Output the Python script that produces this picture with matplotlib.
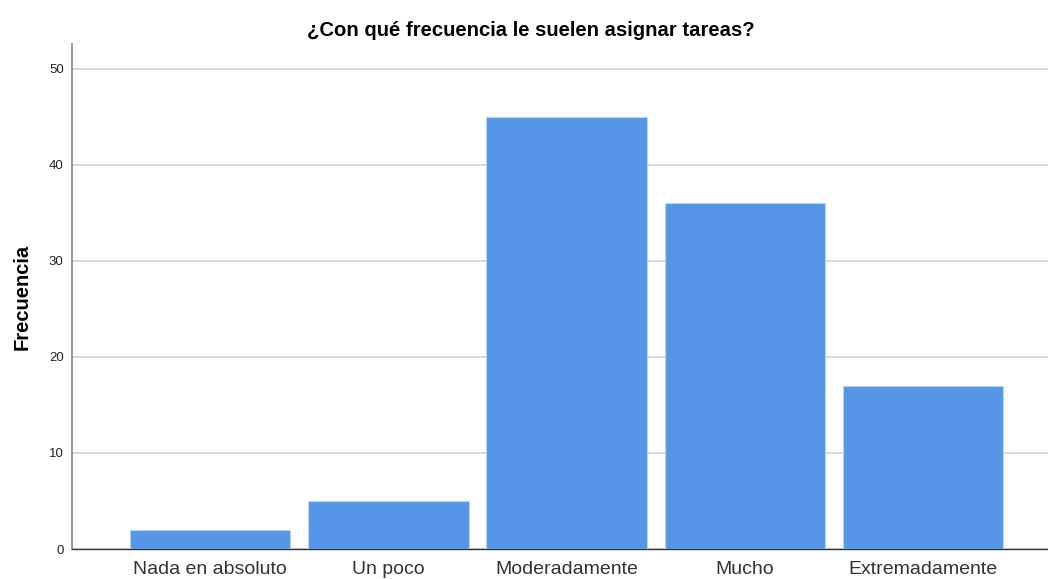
import matplotlib
matplotlib.use("Agg")
from matplotlib import pyplot as plt

categorias = ["Nada en absoluto", "Un poco", "Moderadamente", "Mucho", "Extremadamente"]
frecuencias = [2, 5, 45, 36, 17]
yticks = [0, 10, 20, 30, 40, 50]

plt.rcParams['font.family'] = ['Liberation Sans', 'DejaVu Sans']

fig = plt.figure(figsize=(10.48, 5.79), dpi=100)
ax = fig.add_axes([72 / 1048, 30 / 579, 1 - 72 / 1048, (549 - 44) / 579])

x = list(range(len(categorias)))
ax.bar(x, frecuencias, width=0.9, color="#5596e6", edgecolor="#b8d2f4", linewidth=0.8, zorder=3)

ax.set_xlim(-0.774, 4.70)
ax.set_ylim(0, 52.6)
ax.set_yticks(yticks)
ax.set_xticks(x)
ax.set_xticklabels(categorias, fontsize=14, color="#333333")
ax.tick_params(axis="y", length=0, labelsize=9.5, pad=6, labelcolor="#222222")
ax.tick_params(axis="x", length=0, pad=9)
ax.yaxis.grid(True, color="#d2d2d2", linewidth=1.2, zorder=0)

for s in ["top", "right"]:
    ax.spines[s].set_visible(False)
ax.spines["left"].set_color("#888888")
ax.spines["left"].set_linewidth(1.2)
ax.spines["bottom"].set_color("#333333")
ax.spines["bottom"].set_linewidth(1.0)

ax.set_ylabel("Frecuencia", fontsize=14.5, fontweight="bold", labelpad=12)
fig.text(531 / 1048, 1 - 30 / 579, "¿Con qué frecuencia le suelen asignar tareas?",
         ha="center", va="center", fontsize=14.6, fontweight="bold")

fig.savefig("out.png", dpi=100)
